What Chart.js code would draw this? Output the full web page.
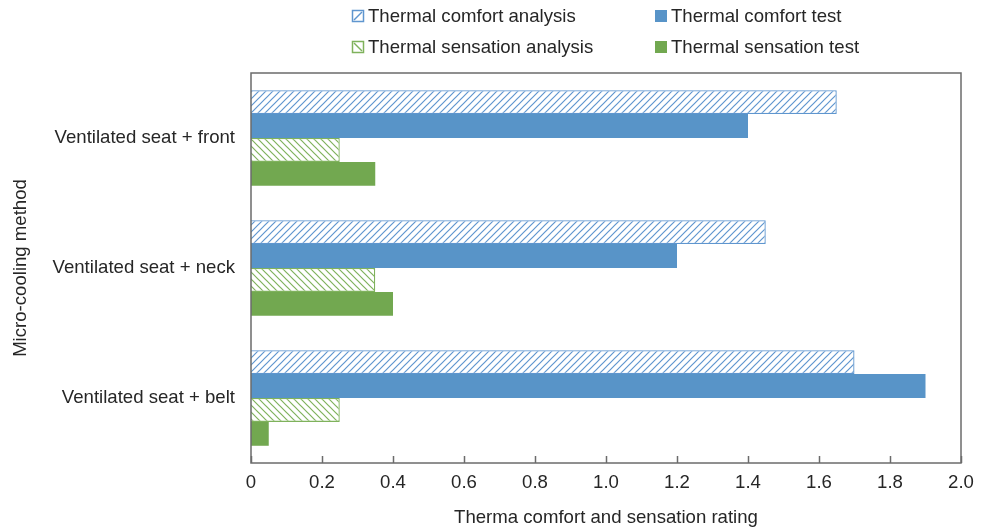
<!DOCTYPE html>
<html>
<head>
<meta charset="utf-8">
<script src="https://cdn.jsdelivr.net/npm/chart.js@4"></script>
<style>
    html, body { margin: 0; padding: 0; background: #ffffff; }
    #wrap { width: 981px; height: 530px; }
</style>
</head>
<body>
<div id="wrap"><canvas id="chart" width="981" height="530"></canvas></div>
<script>
// Chart data
const categories = ["Ventilated seat + front", "Ventilated seat + neck", "Ventilated seat + belt"];
const comfortAnalysis = [1.65, 1.45, 1.70];
const comfortTest = [1.40, 1.20, 1.90];
const sensationAnalysis = [0.25, 0.35, 0.25];
const sensationTest = [0.35, 0.40, 0.05];
const xTicks = [0, 0.2, 0.4, 0.6, 0.8, 1.0, 1.2, 1.4, 1.6, 1.8, 2.0];

const BLUE = "#5894c8";
const GREEN = "#72a850";
const FONT = "'Liberation Sans', Arial, sans-serif";
const SIZE = 18.6;

/**
 * Builds a diagonal hatch pattern.
 *
 * @param {string}  color   Line colour
 * @param {boolean} forward True for "/" lines, false for "\" lines
 */
function hatch(color, forward)
{
    const size = 7;
    const c = document.createElement("canvas");
    c.width = size;
    c.height = size;
    const g = c.getContext("2d");
    g.fillStyle = "#ffffff";
    g.fillRect(0, 0, size, size);
    g.strokeStyle = color;
    g.lineWidth = 1.2;
    g.beginPath();
    if (forward) {
        g.moveTo(-1, size + 1); g.lineTo(size + 1, -1);
        g.moveTo(-1, 1); g.lineTo(1, -1);
        g.moveTo(size - 1, size + 1); g.lineTo(size + 1, size - 1);
    } else {
        g.moveTo(-1, -1); g.lineTo(size + 1, size + 1);
        g.moveTo(size - 1, -1); g.lineTo(size + 1, 1);
        g.moveTo(-1, size - 1); g.lineTo(1, size + 1);
    }
    g.stroke();
    return g.createPattern(c, "repeat");
}

const datasets = [
    { label: "Thermal comfort analysis", data: comfortAnalysis, backgroundColor: hatch("#5f96cf", true), borderColor: "#5f96cf", borderWidth: 1.3, hatched: true, legendColor: "#5f96cf" },
    { label: "Thermal comfort test", data: comfortTest, backgroundColor: BLUE, borderWidth: 0, legendColor: BLUE },
    { label: "Thermal sensation analysis", data: sensationAnalysis, backgroundColor: hatch("#7fb25c", false), borderColor: "#7fb25c", borderWidth: 1.3, hatched: true, legendColor: "#7fb25c" },
    { label: "Thermal sensation test", data: sensationTest, backgroundColor: GREEN, borderWidth: 0, legendColor: GREEN }
];

// Draws the plot frame, inside ticks and the two-column legend
const framePlugin = {
    id: "frame",
    afterDraw(chart)
    {
        const ctx = chart.ctx;
        const area = chart.chartArea;
        const xs = chart.scales.x;

        ctx.save();
        ctx.strokeStyle = "#6b6b6b";
        ctx.lineWidth = 1.5;
        ctx.strokeRect(area.left, area.top, area.right - area.left, area.bottom - area.top);

        ctx.beginPath();
        xTicks.forEach(v => {
            const px = Math.round(xs.getPixelForValue(v)) + 0.5;
            ctx.moveTo(px, area.bottom);
            ctx.lineTo(px, area.bottom - 7);
        });
        ctx.stroke();

        // Legend
        const cols = [352, 655];
        const rows = [16, 47];
        ctx.font = SIZE + "px " + FONT;
        ctx.textBaseline = "middle";
        ctx.textAlign = "left";
        chart.data.datasets.forEach((ds, i) => {
            const x = cols[i % 2];
            const y = rows[Math.floor(i / 2)];
            const s = 12;
            if (ds.hatched) {
                ctx.fillStyle = "#ffffff";
                ctx.fillRect(x, y - s / 2, s, s);
                ctx.strokeStyle = ds.legendColor;
                ctx.lineWidth = 1.5;
                ctx.strokeRect(x + 0.5, y - s / 2 + 0.5, s - 1, s - 1);
                ctx.beginPath();
                if (i === 0) {
                    ctx.moveTo(x + 2, y + s / 2 - 2);
                    ctx.lineTo(x + s - 2, y - s / 2 + 2);
                } else {
                    ctx.moveTo(x + 2, y - s / 2 + 2);
                    ctx.lineTo(x + s - 2, y + s / 2 - 2);
                }
                ctx.stroke();
            } else {
                ctx.fillStyle = ds.legendColor;
                ctx.fillRect(x, y - s / 2, s, s);
            }
            ctx.fillStyle = "#262626";
            ctx.fillText(ds.label, x + 16, y + 1);
        });
        ctx.restore();
    }
};

new Chart(document.getElementById("chart"), {
    type: "bar",
    data: { labels: categories, datasets: datasets },
    options: {
        indexAxis: "y",
        responsive: false,
        animation: false,
        layout: { padding: { top: 73, right: 20, bottom: 0, left: 0 } },
        datasets: { bar: { categoryPercentage: 0.735, barPercentage: 1.0 } },
        plugins: { legend: { display: false }, tooltip: { enabled: false } },
        scales: {
            x: {
                min: 0,
                max: 2,
                afterFit: s => { s.height = 67; },
                afterBuildTicks: s => { s.ticks = xTicks.map(v => ({ value: v })); },
                grid: { display: false },
                border: { display: false },
                ticks: {
                    padding: 1,
                    color: "#262626",
                    font: { family: FONT, size: SIZE },
                    callback: v => (v === 0 ? "0" : v.toFixed(1))
                },
                title: {
                    display: true,
                    text: "Therma comfort and sensation rating",
                    color: "#262626",
                    font: { family: FONT, size: SIZE },
                    padding: { top: 0, bottom: 1 }
                }
            },
            y: {
                afterFit: s => { s.width = 251; },
                grid: { display: false },
                border: { display: false },
                ticks: {
                    padding: 8,
                    color: "#262626",
                    font: { family: FONT, size: SIZE }
                },
                title: {
                    display: true,
                    text: "Micro-cooling method",
                    color: "#262626",
                    font: { family: FONT, size: SIZE },
                    padding: { top: 10, bottom: 0 }
                }
            }
        }
    },
    plugins: [framePlugin]
});
</script>
</body>
</html>
